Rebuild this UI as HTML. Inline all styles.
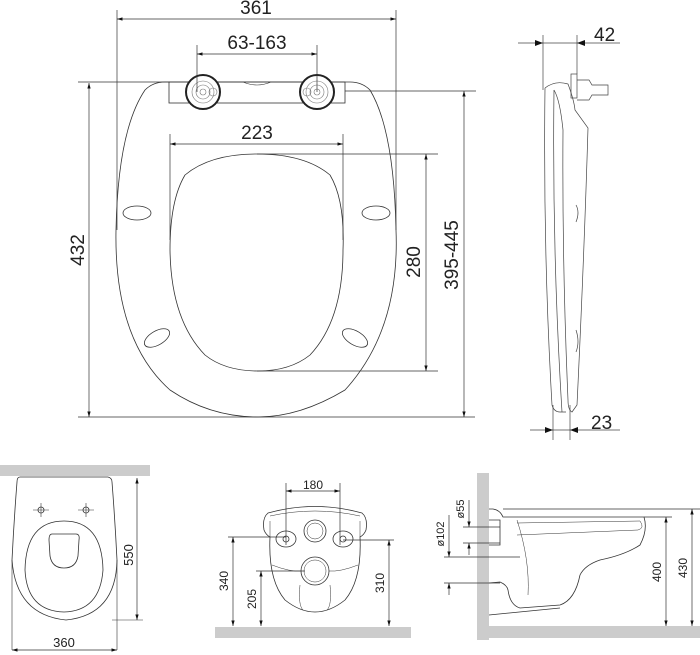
<!DOCTYPE html>
<html><head><meta charset="utf-8"><style>
html,body{margin:0;padding:0;background:#fff}
svg{display:block}
text{font-family:"Liberation Sans",sans-serif;fill:#222}
</style></head><body>
<svg width="700" height="655" viewBox="0 0 700 655" xmlns="http://www.w3.org/2000/svg">
<defs>
<marker id="a" viewBox="0 0 10 10" refX="10" refY="5" markerWidth="8" markerHeight="8" orient="auto-start-reverse"><path d="M0,2 L10,5 L0,8 z" fill="#111"/></marker>
</defs>
<g fill="none" stroke="#333" stroke-width="0.8">
<!-- top seat -->
<path d="M165,82 L350,82 Q362,82 370,90 Q394,130 396,230 Q400,330 345,390 Q300,417 258,417 Q210,417 170,390 Q114,340 116,230 Q118,130 145,90 Q153,82 165,82 Z"/>
<path d="M257,154 Q305,154 330,175 Q345,200 343,250 Q343,320 310,355 Q290,371 258,371 Q225,371 205,355 Q171,320 170,250 Q170,200 185,175 Q210,154 257,154 Z"/>
<rect x="169" y="82" width="176" height="21"/>
<path d="M243,82 Q257,88 271,82" stroke-width="0.6"/>
<ellipse cx="137" cy="213" rx="14" ry="7"/>
<ellipse cx="376" cy="213" rx="14" ry="7"/>
<ellipse cx="157" cy="338" rx="14" ry="7" transform="rotate(-30 157 338)"/>
<ellipse cx="355" cy="338" rx="14" ry="7" transform="rotate(30 355 338)"/>
</g>
<g fill="#fff" stroke="#222" stroke-width="2">
<circle cx="203" cy="92" r="17"/><circle cx="317" cy="92" r="17"/>
</g>
<g fill="none" stroke="#777" stroke-width="0.6">
<circle cx="203" cy="92" r="11"/><circle cx="203" cy="92" r="7"/><circle cx="203" cy="92" r="3"/>
<circle cx="317" cy="92" r="11"/><circle cx="317" cy="92" r="7"/><circle cx="317" cy="92" r="3"/>
<circle cx="213" cy="92" r="4"/><circle cx="307" cy="92" r="4"/>
</g>
<!-- top dims -->
<g stroke="#333" stroke-width="0.7" fill="none">
<line x1="117" y1="10" x2="117" y2="230"/><line x1="396" y1="10" x2="396" y2="230"/>
<line x1="117" y1="19" x2="396" y2="19" marker-start="url(#a)" marker-end="url(#a)"/>
<line x1="197" y1="45" x2="197" y2="92"/><line x1="317" y1="45" x2="317" y2="92"/>
<line x1="197" y1="54" x2="317" y2="54" marker-start="url(#a)" marker-end="url(#a)"/>
<line x1="170" y1="134" x2="170" y2="240"/><line x1="343" y1="134" x2="343" y2="240"/>
<line x1="170" y1="144" x2="343" y2="144" marker-start="url(#a)" marker-end="url(#a)"/>
<line x1="257" y1="154" x2="438" y2="154"/><line x1="257" y1="371" x2="438" y2="371"/>
<line x1="426" y1="154" x2="426" y2="371" marker-start="url(#a)" marker-end="url(#a)"/>
<line x1="345" y1="91" x2="476" y2="91"/>
<line x1="464" y1="91" x2="464" y2="417" marker-start="url(#a)" marker-end="url(#a)"/>
<line x1="78" y1="82" x2="170" y2="82"/><line x1="78" y1="417" x2="475" y2="417"/>
<line x1="89" y1="83" x2="89" y2="417" marker-start="url(#a)" marker-end="url(#a)"/>
</g>
<g font-size="19">
<text x="256" y="14" text-anchor="middle">361</text>
<text x="257" y="49" text-anchor="middle">63-163</text>
<text x="257" y="139" text-anchor="middle">223</text>
<text transform="translate(420,262) rotate(-90)" text-anchor="middle">280</text>
<text transform="translate(458,255) rotate(-90)" text-anchor="middle">395-445</text>
<text transform="translate(84,250) rotate(-90)" text-anchor="middle">432</text>
</g>
<!-- side view -->
<g fill="none" stroke="#444" stroke-width="0.7">
<path d="M545,88 Q555,80 568,84 Q574,100 575,110 L588,128 Q584,260 577,405 L572,412 Q568,410 568,400 Q562,260 563,130 Q560,100 554,90"/>
<path d="M545,88 Q543,250 552,405 Q554,412 560,412 L566,412"/>
<path d="M554,90 Q552,250 562,412"/>
<rect x="571" y="74" width="6" height="24"/>
<path d="M577,80 L589,80 L592,85 L608,85 L608,95 L592,95 L589,100 L577,100"/>
<path d="M576,205 Q580,212 576,222"/><path d="M576,330 Q580,342 576,352"/>
<line x1="543" y1="35" x2="543" y2="90"/><line x1="577" y1="35" x2="577" y2="74"/>
<line x1="518" y1="43" x2="620" y2="43"/>
<line x1="553" y1="405" x2="553" y2="440"/><line x1="570" y1="405" x2="570" y2="440"/>
<line x1="530" y1="430" x2="620" y2="430"/>
</g>
<g fill="#111">
<path d="M543,43 l-8,-3 v6z"/><path d="M577,43 l8,-3 v6z"/>
<path d="M553,430 l-8,-3 v6z"/><path d="M570,430 l8,-3 v6z"/>
</g>
<text x="594" y="41" font-size="19">42</text>
<text x="591" y="429" font-size="19">23</text>
<!-- bottom left -->
<rect x="0" y="465" width="150" height="11" fill="#ccc"/>
<g fill="none" stroke="#333" stroke-width="0.8">
<path d="M20,477 L108,477 Q112,478 112,482 Q115,520 117,560 Q116,615 66,620 Q16,615 12,560 Q14,520 17,482 Q17,477 20,477Z"/>
<path d="M64,521 Q102,521 103,570 Q100,611 64,612 Q27,611 25,570 Q26,521 64,521Z"/>
<path d="M52,534 L76,534 Q80,534 79,540 L78,556 Q76,568 64,568 Q52,568 50,556 L49,540 Q49,534 52,534Z"/>
<circle cx="41" cy="510" r="3"/><circle cx="86" cy="510" r="3"/>
<path d="M33,510 h16 M41,503 v14 M78,510 h16 M86,503 v14" stroke-width="0.6"/>
<line x1="112" y1="620" x2="143" y2="620" stroke-width="0.6"/>
<line x1="137" y1="478" x2="137" y2="620" stroke-width="0.7" marker-start="url(#a)" marker-end="url(#a)"/>
<line x1="12" y1="560" x2="12" y2="650" stroke-width="0.6"/><line x1="117" y1="560" x2="117" y2="650" stroke-width="0.6"/>
<line x1="12" y1="650" x2="117" y2="650" stroke-width="0.7" marker-start="url(#a)" marker-end="url(#a)"/>
</g>
<text transform="translate(136,555) rotate(-90)" font-size="13" text-anchor="middle" dy="-3">550</text>
<text x="64" y="647" font-size="13" text-anchor="middle">360</text>
<!-- bottom middle -->
<rect x="215" y="627" width="196" height="11" fill="#ccc"/>
<g fill="none" stroke="#333" stroke-width="0.8">
<path d="M268,513 Q315,500 362,513 Q368,518 366,530 Q364,535 360,537 Q362,580 345,600 Q330,612 315,612 Q300,612 285,600 Q268,580 270,537 Q266,535 264,530 Q262,518 268,513Z"/>
<path d="M270,516 Q315,506 360,516 M270,521 L270,537 M360,521 L360,537" stroke-width="0.5"/>
<circle cx="315" cy="531" r="11"/><circle cx="315" cy="531" r="8" stroke-width="0.5"/>
<circle cx="315" cy="571" r="14"/><circle cx="315" cy="571" r="11" stroke-width="0.5"/>
<ellipse cx="286" cy="539" rx="10" ry="8"/><ellipse cx="343" cy="539" rx="10" ry="8"/>
<circle cx="286" cy="539" r="3"/><circle cx="343" cy="539" r="3"/>
<path d="M272,565 Q290,572 301,571 M358,565 Q340,572 329,571 M300,585 Q298,605 303,610 M330,585 Q332,605 327,610" stroke-width="0.5"/>
</g>
<g stroke="#333" stroke-width="0.7" fill="none">
<line x1="286" y1="483" x2="286" y2="545"/><line x1="340" y1="483" x2="340" y2="545"/>
<line x1="286" y1="491" x2="340" y2="491" marker-start="url(#a)" marker-end="url(#a)"/>
<line x1="228" y1="537" x2="286" y2="537"/>
<line x1="233" y1="537" x2="233" y2="626" marker-start="url(#a)" marker-end="url(#a)"/>
<line x1="256" y1="571" x2="305" y2="571"/>
<line x1="261" y1="571" x2="261" y2="626" marker-start="url(#a)" marker-end="url(#a)"/>
<line x1="343" y1="540" x2="394" y2="540"/>
<line x1="389" y1="540" x2="389" y2="626" marker-start="url(#a)" marker-end="url(#a)"/>
</g>
<g font-size="12">
<text x="313" y="489" text-anchor="middle">180</text>
<text transform="translate(230,581) rotate(-90)" text-anchor="middle" dy="-2">340</text>
<text transform="translate(258,599) rotate(-90)" text-anchor="middle" dy="-2">205</text>
<text transform="translate(386,583) rotate(-90)" text-anchor="middle" dy="-2">310</text>
</g>
<!-- bottom right -->
<rect x="477" y="473" width="12" height="167" fill="#ccc"/>
<rect x="477" y="626" width="223" height="12" fill="#ccc"/>
<g fill="none" stroke="#333" stroke-width="0.8">
<path d="M489,509 L493,509 Q500,510 503,517 L644,517 Q648,530 640,545 Q625,555 600,560 Q585,565 580,575 Q575,600 560,605 L520,608 Q510,605 508,590 Q507,585 500,582 L489,583"/>
<line x1="489" y1="615" x2="560" y2="608"/>
<path d="M489,520 L500,520 L500,545 L489,545"/>
<path d="M517,520 Q530,560 528,595" stroke-width="0.5"/>
<path d="M517,523 L640,521 Q645,528 638,530 L517,535" stroke-width="0.5"/>
</g>
<g stroke="#333" stroke-width="0.7" fill="none">
<line x1="503" y1="509" x2="700" y2="509"/><line x1="644" y1="517" x2="672" y2="517"/>
<line x1="666" y1="517" x2="666" y2="626" marker-start="url(#a)" marker-end="url(#a)"/>
<line x1="692" y1="509" x2="692" y2="626" marker-start="url(#a)" marker-end="url(#a)"/>
<line x1="463" y1="527" x2="500" y2="527"/><line x1="463" y1="543" x2="500" y2="543"/>
<line x1="469" y1="500" x2="469" y2="527" marker-end="url(#a)"/>
<line x1="469" y1="555" x2="469" y2="543" marker-end="url(#a)"/>
<line x1="444" y1="557" x2="520" y2="557"/><line x1="444" y1="583" x2="500" y2="583"/>
<line x1="449" y1="515" x2="449" y2="557" marker-end="url(#a)"/>
<line x1="449" y1="595" x2="449" y2="583" marker-end="url(#a)"/>
</g>
<g font-size="12">
<text transform="translate(663,572) rotate(-90)" text-anchor="middle" dy="-2">400</text>
<text transform="translate(689,568) rotate(-90)" text-anchor="middle" dy="-2">430</text>
<text transform="translate(466,509) rotate(-90)" text-anchor="middle" dy="-2" font-size="11">ø55</text>
<text transform="translate(446,534) rotate(-90)" text-anchor="middle" dy="-2" font-size="11">ø102</text>
</g>
</svg>
</body></html>
